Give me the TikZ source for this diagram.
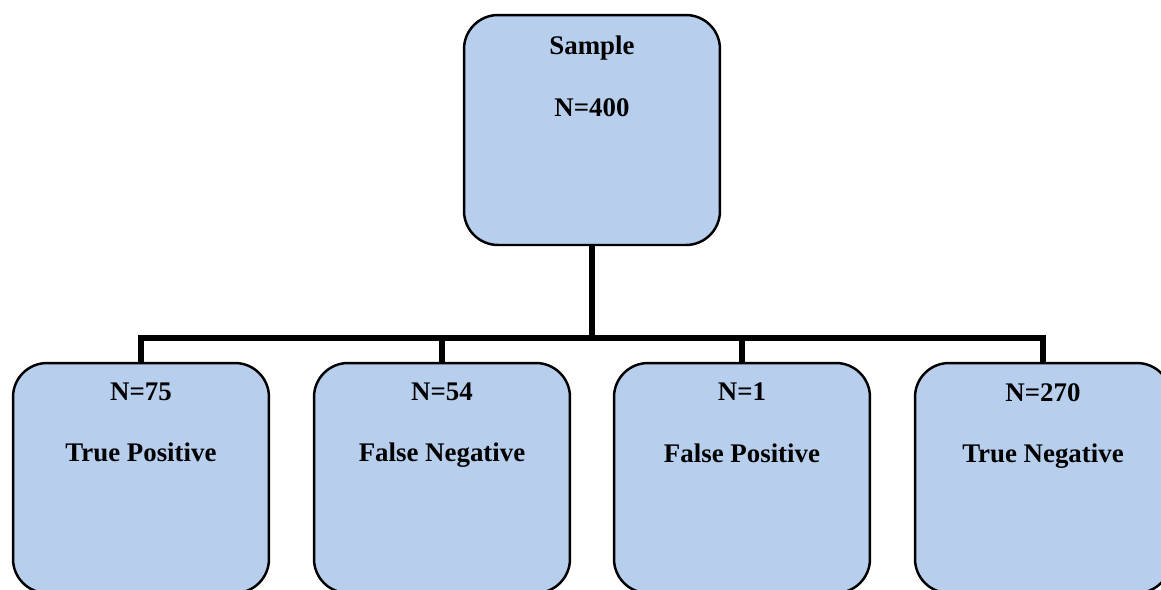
\documentclass[tikz,border=0pt]{standalone}
\usepackage{fontspec}
\setmainfont{Liberation Serif}
\usepackage{tikz}
\usetikzlibrary{positioning}

\definecolor{boxblue}{RGB}{183,207,237}

\begin{document}
\begin{tikzpicture}[x=0.02cm,y=-0.02cm]
      \tikzstyle{every node}=[font=\bfseries\fontsize{15.3}{17.8}\selectfont]
      \tikzstyle{groupbox}=[rectangle,draw,line width=1.4pt,fill=boxblue,
        rounded corners=0.68cm,minimum width=5.12cm,minimum height=4.6cm]
      \tikzstyle{boxtext}=[inner sep=0pt,align=center]
      \tikzstyle{wire}=[line width=3.4pt]
      \useasboundingbox (0,0) rectangle (1161,589);
      % boxes
      \node[groupbox] (sample) at (592,130) {};
      \node[groupbox] (tp) at (141,478) {};
      \node[groupbox] (fn) at (442,478) {};
      \node[groupbox] (fp) at (742,478) {};
      \node[groupbox] (tn) at (1043,478) {};
      % texts
      \node[boxtext,below=0.43cm of sample.north] (sampletxt) {Sample\\[17.5pt]N=400};
      \node[boxtext,below=0.42cm of tp.north] (tptxt) {N=75\\[17pt]True Positive};
      \node[boxtext,below=0.42cm of fn.north] (fntxt) {N=54\\[17pt]False Negative};
      \node[boxtext,below=0.42cm of fp.north] (fptxt) {N=1\\[17pt]False Positive};
      \node[boxtext,below=0.42cm of tn.north] (tntxt) {N=270\\[17pt]True Negative};
      % connectors
      \coordinate (hub) at (592,338);
      \draw[wire] (sample.south) -- (hub);
      \draw[wire] (tp.north) -- (tp.north |- hub) -- (tn.north |- hub) -- (tn.north);
      \draw[wire] (fn.north) -- (fn.north |- hub);
      \draw[wire] (fp.north) -- (fp.north |- hub);
    \end{tikzpicture}
\end{document}
